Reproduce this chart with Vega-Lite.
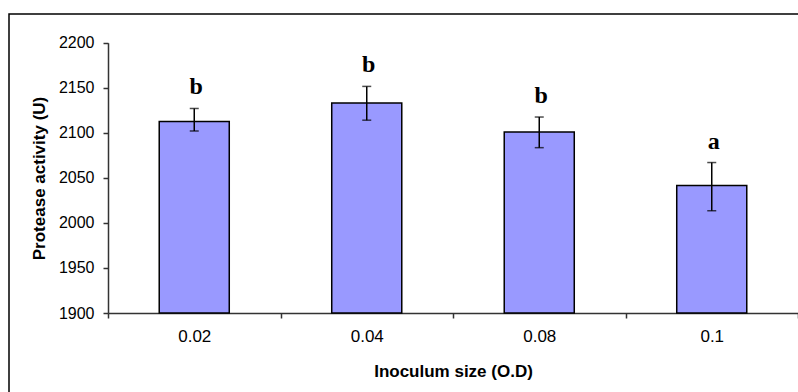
{
  "$schema": "https://vega.github.io/schema/vega-lite/v6.json",
  "autosize": {"type": "none"},
  "padding": {"left": 9, "top": 14, "right": 0, "bottom": 0},
  "width": 800,
  "height": 400,
  "config": {
    "view": {"stroke": "#000000", "strokeWidth": 1.5},
    "axis": {
      "grid": false,
      "domainColor": "#333333",
      "domainWidth": 1.5,
      "tickColor": "#333333",
      "tickWidth": 1.5,
      "tickSize": 5,
      "labelFont": "Liberation Sans",
      "labelColor": "#000000",
      "titleFont": "Liberation Sans",
      "titleColor": "#000000",
      "titleFontWeight": "bold"
    }
  },
  "data": {
    "values": [
      {"size": "0.02", "mean": 2112.5, "lo": 2102, "hi": 2127, "group": "b"},
      {"size": "0.04", "mean": 2133, "lo": 2114, "hi": 2151.5, "group": "b"},
      {"size": "0.08", "mean": 2101, "lo": 2083.5, "hi": 2117.5, "group": "b"},
      {"size": "0.1", "mean": 2041.5, "lo": 2013.5, "hi": 2067, "group": "a"}
    ]
  },
  "encoding": {
    "x": {
      "field": "size",
      "type": "nominal",
      "sort": null,
      "scale": {"range": [99, 789], "paddingInner": 0, "paddingOuter": 0},
      "axis": {
        "title": "Inoculum size (O.D)",
        "labelAngle": 0,
        "labelFontSize": 17,
        "labelPadding": 10,
        "tickBand": "extent",
        "offset": -101,
        "titleFontSize": 17,
        "titleY": 58,
        "titleBaseline": "middle"
      }
    }
  },
  "layer": [
    {
      "mark": {"type": "bar", "fill": "#9999ff", "stroke": "#000000", "strokeWidth": 1.5, "width": {"band": 0.406}},
      "encoding": {
        "y": {
          "field": "mean",
          "type": "quantitative",
          "scale": {"domain": [1900, 2200], "zero": false, "range": [299, 28.7], "nice": false},
          "axis": {
            "title": "Protease activity (U)",
            "values": [1900, 1950, 2000, 2050, 2100, 2150, 2200],
            "format": "d",
            "offset": -99,
            "labelFontSize": 16,
            "labelPadding": 9,
            "titleFontSize": 17,
            "titleX": -69,
            "titleY": 164,
            "titleBaseline": "middle"
          }
        },
        "y2": {"datum": 1900}
      }
    },
    {
      "mark": {"type": "rule", "color": "#000000", "strokeWidth": 1.5},
      "encoding": {
        "y": {"field": "lo", "type": "quantitative"},
        "y2": {"field": "hi"}
      }
    },
    {
      "mark": {"type": "tick", "color": "#000000", "thickness": 1.5, "size": 9},
      "encoding": {"y": {"field": "lo", "type": "quantitative"}}
    },
    {
      "mark": {"type": "tick", "color": "#000000", "thickness": 1.5, "size": 9},
      "encoding": {"y": {"field": "hi", "type": "quantitative"}}
    },
    {
      "mark": {"type": "text", "font": "Liberation Serif", "fontWeight": "bold", "fontSize": 24, "baseline": "alphabetic", "dy": -14, "dx": 2, "color": "#000000"},
      "encoding": {
        "y": {"field": "hi", "type": "quantitative"},
        "text": {"field": "group"}
      }
    }
  ]
}
